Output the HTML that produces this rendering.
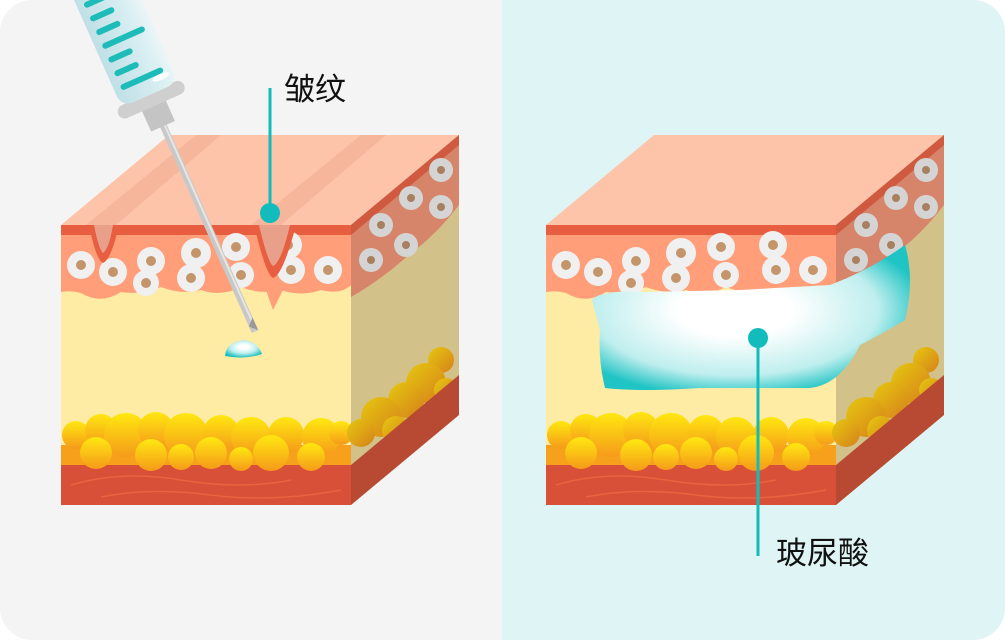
<!DOCTYPE html>
<html><head><meta charset="utf-8"><style>
html,body{margin:0;padding:0;background:#fff}
svg{display:block}
text{font-family:"Liberation Sans","Noto Sans CJK SC",sans-serif}
</style></head><body>
<svg width="1005" height="640" viewBox="0 0 1005 640" xmlns="http://www.w3.org/2000/svg">
<defs>
<clipPath id="card"><rect x="0" y="0" width="1005" height="640" rx="32"/></clipPath>
<linearGradient id="fat" x1="0" y1="0" x2="0" y2="1"><stop offset="0" stop-color="#ffe810"/><stop offset="1" stop-color="#f59a1a"/></linearGradient>
<linearGradient id="fatS" x1="0" y1="0" x2="1" y2="1"><stop offset="0" stop-color="#e6c810"/><stop offset="1" stop-color="#d6801a"/></linearGradient>
<radialGradient id="ha" cx="0.45" cy="0.45" r="0.6"><stop offset="0.3" stop-color="#ffffff"/><stop offset="0.75" stop-color="#bfeeee"/><stop offset="1" stop-color="#1fc4c4"/></radialGradient>
<radialGradient id="drop" cx="0.5" cy="0.4" r="0.6"><stop offset="0.2" stop-color="#ffffff"/><stop offset="0.6" stop-color="#bdeeee"/><stop offset="1" stop-color="#1fc0c0"/></radialGradient>
<linearGradient id="barrel" x1="0" y1="0" x2="1" y2="0"><stop offset="0" stop-color="#bfe0e6"/><stop offset="0.7" stop-color="#d8eef2"/><stop offset="1" stop-color="#eaf6f8"/></linearGradient>
<g id="cube">
  <rect x="0" y="90" width="290" height="280" fill="#feeba4"/>
  <rect x="0" y="330" width="290" height="40" fill="#d95038"/>
  <path d="M10 350 Q60 335 120 345 T230 345 M40 362 Q90 352 150 360 T280 355" stroke="#e8653f" stroke-width="1.5" fill="none"/>
  <rect x="0" y="310" width="290" height="20" fill="#f6a01c"/>
  <g fill="url(#fat)">
    <circle cx="15" cy="300" r="14"/><circle cx="40" cy="295" r="16"/><circle cx="65" cy="300" r="22"/><circle cx="95" cy="295" r="18"/><circle cx="125" cy="300" r="22"/><circle cx="160" cy="298" r="18"/><circle cx="190" cy="302" r="20"/><circle cx="225" cy="300" r="18"/><circle cx="260" cy="302" r="19"/><circle cx="280" cy="298" r="12"/>
    <circle cx="35" cy="318" r="16"/><circle cx="90" cy="320" r="16"/><circle cx="150" cy="318" r="16"/><circle cx="210" cy="318" r="18"/><circle cx="250" cy="322" r="14"/><circle cx="120" cy="322" r="13"/><circle cx="180" cy="324" r="12"/>
  </g>
  <polygon points="290,90 398,0 398,280 290,370" fill="#d2c28a"/>
  <g fill="url(#fatS)">
    <circle cx="380" cy="225" r="13"/><circle cx="365" cy="248" r="20"/><circle cx="345" cy="265" r="18"/><circle cx="320" cy="282" r="20"/><circle cx="300" cy="298" r="14"/><circle cx="385" cy="255" r="12"/><circle cx="335" cy="295" r="14"/>
  </g>
  <polygon points="290,330 398,240 398,280 290,370" fill="#b84a34"/>
  <polygon points="0,90 108,0 398,0 290,90" fill="#fdc4aa"/>
  <path d="M0 90 H290 V150 Q280 160 260 155 Q240 162 220 155 Q200 160 180 152 Q160 162 140 155 Q120 160 100 152 Q80 160 60 157 Q40 170 20 158 Q10 155 0 157 Z" fill="#ff9e78"/>
  <rect x="0" y="90" width="290" height="10" fill="#e85e40"/>
  <path d="M290 90 L398 0 V70 Q375 100 350 118 Q320 145 290 162 Z" fill="#d6856a"/>
  <polygon points="290,90 398,0 398,10 290,100" fill="#d05a40"/>
  <g>
    <g fill="#f0f0f0"><circle cx="20" cy="130" r="14"/><circle cx="52" cy="137" r="14"/><circle cx="90" cy="126" r="14"/><circle cx="135" cy="118" r="15"/><circle cx="175" cy="112" r="14"/><circle cx="227" cy="110" r="14"/><circle cx="230" cy="135" r="14"/><circle cx="267" cy="135" r="14"/><circle cx="130" cy="143" r="14"/><circle cx="85" cy="148" r="13"/><circle cx="180" cy="140" r="13"/></g>
    <g fill="#c4956a"><circle cx="20" cy="130" r="5"/><circle cx="52" cy="137" r="5"/><circle cx="90" cy="126" r="5"/><circle cx="135" cy="118" r="5"/><circle cx="175" cy="112" r="5"/><circle cx="227" cy="110" r="5"/><circle cx="230" cy="135" r="5"/><circle cx="267" cy="135" r="5"/><circle cx="130" cy="143" r="5"/><circle cx="85" cy="148" r="5"/><circle cx="180" cy="140" r="5"/></g>
    <g fill="#d4d4d4"><circle cx="380" cy="35" r="12"/><circle cx="350" cy="63" r="12"/><circle cx="380" cy="72" r="12"/><circle cx="320" cy="90" r="12"/><circle cx="345" cy="110" r="12"/><circle cx="310" cy="125" r="12"/></g>
    <g fill="#a88060"><circle cx="380" cy="35" r="4"/><circle cx="350" cy="63" r="4"/><circle cx="380" cy="72" r="4"/><circle cx="320" cy="90" r="4"/><circle cx="345" cy="110" r="4"/><circle cx="310" cy="125" r="4"/></g>
  </g>
</g>
</defs>
<g clip-path="url(#card)">
<rect x="0" y="0" width="502" height="640" fill="#f4f4f4"/>
<rect x="502" y="0" width="503" height="640" fill="#dff4f4"/>
</g>

<g transform="translate(61,135)">
  <use href="#cube"/>
  <path d="M25 90 L135 0 L160 0 L55 90 Z" fill="#f6b69c"/>
  <path d="M190 90 L300 0 L325 0 L220 90 Z" fill="#f6b69c"/>
  <path d="M28 90 Q35 125 42 128 Q50 125 58 90 Z" fill="#e85e40"/>
  <path d="M33 90 Q38 115 42 118 Q48 114 52 90 Z" fill="#e8a08a"/>
  <path d="M193 90 Q205 140 212 143 Q222 140 235 90 Z" fill="#e85e40"/>
  <path d="M198 90 Q207 128 212 131 Q220 128 229 90 Z" fill="#e8a08a"/>
  <path d="M205 155 L212 175 L222 155 Z" fill="#ff9e78"/>
</g>
<path d="M225 356 Q226 342 244 340 Q258 342 262 354 Q245 360 225 356 Z" fill="url(#drop)"/>
<g transform="translate(150,97) rotate(-24)">
  <rect x="-3" y="20" width="7" height="237" fill="#c8c8c8"/>
  <rect x="1" y="20" width="2" height="235" fill="#e6e6e6"/>
  <polygon points="-3,250 4,257 4,243" fill="#999"/>
  <rect x="-13" y="8" width="26" height="24" fill="#c4c4c4"/>
  <rect x="-36" y="-4" width="72" height="14" rx="7" fill="#cfcfcf"/>
  <rect x="-30" y="-180" width="62" height="178" rx="12" fill="url(#barrel)"/>
  <g stroke="#1ebcb8" stroke-width="6" stroke-linecap="round">
    <line x1="-20" y1="-20" x2="20" y2="-20"/><line x1="-20" y1="-35" x2="0" y2="-35"/><line x1="-20" y1="-50" x2="0" y2="-50"/><line x1="-20" y1="-65" x2="20" y2="-65"/><line x1="-20" y1="-80" x2="0" y2="-80"/><line x1="-20" y1="-95" x2="0" y2="-95"/><line x1="-20" y1="-110" x2="20" y2="-110"/><line x1="-20" y1="-125" x2="0" y2="-125"/><line x1="-20" y1="-140" x2="0" y2="-140"/><line x1="-20" y1="-155" x2="20" y2="-155"/>
  </g>
  <ellipse cx="18" cy="-14" rx="9" ry="3" fill="#fff"/>
</g>

<g transform="translate(546,135)"><use href="#cube"/></g>
<path d="M592 300 Q600 290 640 292 L740 290 L830 285 Q870 270 905 245 Q915 280 905 320 Q880 335 860 345 Q840 385 810 388 L700 388 Q640 392 605 388 Q598 360 600 330 Z" fill="url(#ha)"/>

<line x1="270" y1="88" x2="270" y2="213" stroke="#12bcbc" stroke-width="3"/>
<circle cx="270" cy="213" r="10" fill="#12bcbc"/>
<text x="284" y="100" font-size="31" fill="#111">皱纹</text>
<line x1="758" y1="338" x2="758" y2="556" stroke="#12bcbc" stroke-width="3"/>
<circle cx="758" cy="338" r="10" fill="#12bcbc"/>
<text x="776" y="564" font-size="31" fill="#111">玻尿酸</text>
</svg>
</body></html>
